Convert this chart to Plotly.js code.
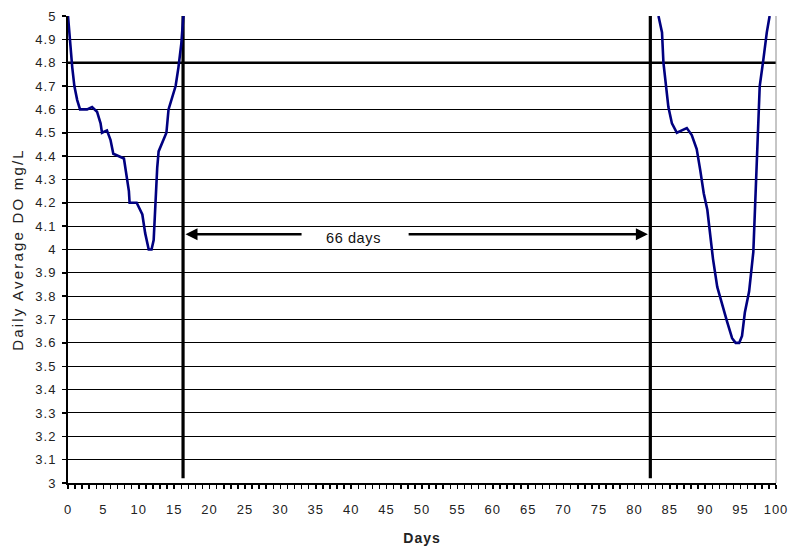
<!DOCTYPE html>
<html>
<head>
<meta charset="utf-8">
<script src="https://cdn.plot.ly/plotly-3.0.1.min.js"></script>
<style>
  html, body { margin: 0; padding: 0; background: #fff; }
  #chart { width: 788px; height: 546px; }
  .ytitle { letter-spacing: 2.2px; }
  .xtitle { letter-spacing: 1px; }
  .ytick text, .xtick text { letter-spacing: 1px; }
  .annotation-text { letter-spacing: 0.6px; }
</style>
</head>
<body>
<div id="chart"></div>
<script>
// ---- data ----
const leftDays = [0, 0.1, 0.3, 0.6, 0.9, 1.3, 1.7, 2.7, 3.4, 4.1, 4.6, 4.8, 5.5, 6.0, 6.4, 7.1, 7.9, 8.2, 8.6, 8.7, 9.7, 10.5, 10.9, 11.4, 11.8, 12.1, 12.3, 12.6, 12.8, 13.4, 13.9, 14.2, 14.7, 15.2, 15.6, 16.0, 16.3];
const leftDO   = [5.0, 4.96, 4.87, 4.78, 4.70, 4.64, 4.60, 4.60, 4.61, 4.59, 4.54, 4.50, 4.51, 4.47, 4.41, 4.40, 4.39, 4.33, 4.25, 4.20, 4.20, 4.15, 4.07, 4.00, 4.00, 4.04, 4.18, 4.35, 4.42, 4.46, 4.50, 4.60, 4.65, 4.70, 4.78, 4.88, 5.0];

const rightDays = [83.4, 83.9, 84.1, 84.4, 84.8, 85.3, 86.0, 86.7, 87.4, 88.1, 88.8, 89.3, 89.8, 90.3, 90.7, 91.1, 91.7, 92.4, 93.1, 93.8, 94.3, 94.8, 95.2, 95.6, 96.2, 96.8, 97.0, 97.3, 97.5, 97.7, 98.2, 98.7, 99.1];
const rightDO   = [5.0, 4.93, 4.80, 4.71, 4.61, 4.54, 4.50, 4.51, 4.52, 4.49, 4.43, 4.34, 4.24, 4.17, 4.07, 3.96, 3.84, 3.76, 3.69, 3.62, 3.60, 3.60, 3.63, 3.73, 3.82, 3.99, 4.16, 4.33, 4.50, 4.70, 4.81, 4.93, 5.0];

const threshold = 4.8;              // thick horizontal reference line
const breakDays = [16.25, 82.25];   // thick vertical lines
const spanLabel = "66 days";
const arrowLevel = 4.065;
const arrowTails = [33.2, 47.9];    // where the two arrow halves start
const labelDay = 40.3;

const xTickVals = [0, 5, 10, 15, 20, 25, 30, 35, 40, 45, 50, 55, 60, 65, 70, 75, 80, 85, 90, 95, 100];
const xTitle = "Days";
const yTitle = "Daily Average DO mg/L";

// ---- chart ----
const curveStyle = { color: '#000080', width: 2.6 };
const traces = [
  { x: leftDays, y: leftDO, mode: 'lines', line: curveStyle, hoverinfo: 'skip', showlegend: false },
  { x: rightDays, y: rightDO, mode: 'lines', line: curveStyle, hoverinfo: 'skip', showlegend: false }
];

const shapes = [
  { type: 'line', xref: 'x', yref: 'y', x0: 0, x1: 100, y0: threshold, y1: threshold, line: { color: '#000', width: 2.6 }, layer: 'below' },
  { type: 'line', xref: 'x', yref: 'y', x0: breakDays[0], x1: breakDays[0], y0: 3.02, y1: 5, line: { color: '#000', width: 3.2 }, layer: 'below' },
  { type: 'line', xref: 'x', yref: 'y', x0: breakDays[1], x1: breakDays[1], y0: 3.02, y1: 5, line: { color: '#000', width: 3.2 }, layer: 'below' },
  { type: 'line', xref: 'paper', yref: 'paper', x0: 1, x1: 1, y0: 0, y1: 1, line: { color: '#8c8c8c', width: 1 } }
];

const arrowCommon = { xref: 'x', yref: 'y', axref: 'x', ayref: 'y', text: '', showarrow: true,
  arrowhead: 2, arrowsize: 1, arrowwidth: 2.4, arrowcolor: '#000' };
const annotations = [
  Object.assign({}, arrowCommon, { x: breakDays[0] + 0.35, y: arrowLevel, ax: arrowTails[0], ay: arrowLevel }),
  Object.assign({}, arrowCommon, { x: breakDays[1] - 0.35, y: arrowLevel, ax: arrowTails[1], ay: arrowLevel }),
  { xref: 'x', yref: 'y', x: labelDay, y: arrowLevel - 0.015, text: spanLabel, showarrow: false,
    font: { family: 'Liberation Sans, Arial, sans-serif', size: 14.5, color: '#111' } }
];

const tickFont = { family: 'Liberation Sans, Arial, sans-serif', size: 13, color: '#222' };

const layout = {
  width: 788, height: 546,
  margin: { l: 68, r: 12, t: 16, b: 63, pad: 0 },
  paper_bgcolor: '#fff', plot_bgcolor: '#fff',
  showlegend: false,
  xaxis: {
    range: [0, 100], tickmode: 'array', tickvals: xTickVals, ticktext: xTickVals.map(String),
    showgrid: false, zeroline: false,
    showline: true, linecolor: '#000', linewidth: 2,
    ticks: 'outside', ticklen: 4, tickwidth: 1.5, tickcolor: '#000',
    minor: { dtick: 1, tick0: 0, ticks: 'outside', ticklen: 4, tickwidth: 1.5, tickcolor: '#000' },
    ticklabelstandoff: 9,
    ticklabeloverflow: 'allow',
    tickfont: tickFont,
    title: { text: xTitle, font: { family: 'Liberation Sans, Arial, sans-serif', size: 14, color: '#222', weight: 'bold' }, standoff: 18 },
    fixedrange: true
  },
  yaxis: {
    range: [3, 5], dtick: 0.1, tick0: 3,
    showgrid: true, gridcolor: '#000', gridwidth: 1,
    zeroline: false,
    showline: true, linecolor: '#000', linewidth: 2,
    ticks: 'outside', ticklen: 4, tickwidth: 1.5, tickcolor: '#000',
    ticklabelstandoff: 3,
    tickfont: tickFont,
    title: { text: yTitle, font: { family: 'Liberation Sans, Arial, sans-serif', size: 15, color: '#222' }, standoff: 8 },
    fixedrange: true
  },
  shapes: shapes,
  annotations: annotations
};

Plotly.newPlot('chart', traces, layout, { displayModeBar: false, staticPlot: true });
</script>
</body>
</html>
